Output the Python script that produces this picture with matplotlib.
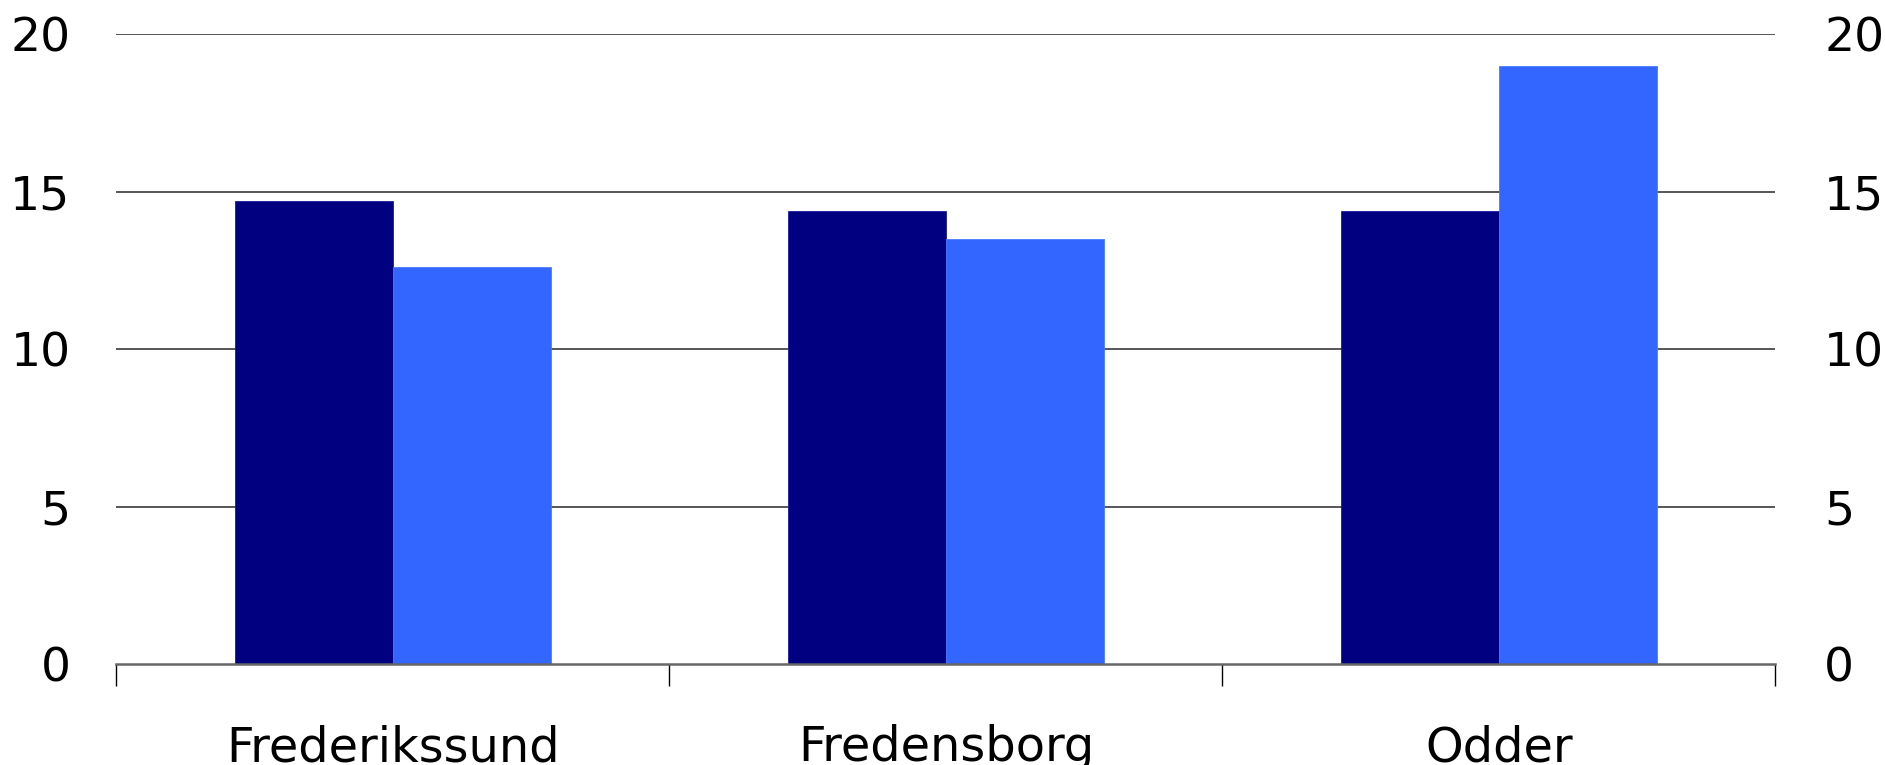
import matplotlib.pyplot as plt
import numpy as np

# data
kommuner = ["Frederikssund", "Fredensborg", "Odder"]
serie_1 = [14.7, 14.4, 14.4]
serie_2 = [12.6, 13.5, 19.0]
y_ticks = [0, 5, 10, 15, 20]

dark = "#000080"
light = "#3366FF"

plt.rcParams['font.family'] = ['DejaVu Sans']

fig = plt.figure(figsize=(18.85, 7.65), dpi=100)
ax = fig.add_axes([0.0617, 0.1314, 0.8802, 0.8239])

x = np.arange(len(kommuner))
w = 1 / 3.5
ax.bar(x - w / 2, serie_1, width=w, color=dark, edgecolor="#1a1aa0", linewidth=0.6, zorder=3)
ax.bar(x + w / 2, serie_2, width=w, color=light, edgecolor="#4a7aff", linewidth=0.6, zorder=3)

ax.set_xlim(-0.5, len(kommuner) - 0.5)
ax.set_ylim(0, 20)
ax.set_yticks(y_ticks)
ax.set_yticklabels([str(t) for t in y_ticks], fontsize=34)
ax.tick_params(axis="y", length=0, pad=33)

for t in y_ticks[1:]:
    ax.axhline(t, color="#3a3a3a", linewidth=1.2, zorder=1)

# category ticks at boundaries, labels at centres
ax.set_xticks(np.arange(-0.5, len(kommuner)), minor=False)
ax.set_xticklabels([])
ax.tick_params(axis="x", which="major", length=16, width=1, color="black", direction="out")
ax.set_xticks(x, minor=True)
ax.set_xticklabels(kommuner, minor=True, fontsize=34.5)
ax.tick_params(axis="x", which="minor", length=0, pad=43)

for s in ["top", "left", "right"]:
    ax.spines[s].set_visible(False)
ax.spines["bottom"].set_color("#666666")
ax.spines["bottom"].set_linewidth(1.8)
ax.spines["bottom"].set_zorder(4)

ax2 = ax.twinx()
ax2.set_ylim(0, 20)
ax2.set_yticks(y_ticks)
ax2.set_yticklabels([str(t) for t in y_ticks], fontsize=34)
ax2.tick_params(axis="y", length=0, pad=35)
for s in ["top", "left", "right", "bottom"]:
    ax2.spines[s].set_visible(False)

fig.savefig("out.png", dpi=100)
